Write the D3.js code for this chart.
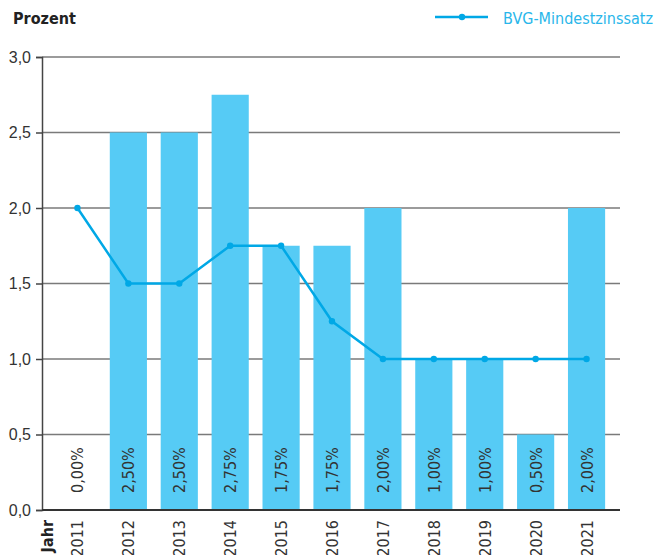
<!DOCTYPE html>
<html>
<head>
<meta charset="utf-8">
<script src="https://cdn.jsdelivr.net/npm/d3@7"></script>
<style>
  html, body { margin: 0; padding: 0; background: #fff; }
  svg { display: block; font-family: "Liberation Sans Narrow", "DejaVu Sans Condensed", "Liberation Sans", sans-serif; }
</style>
</head>
<body>
<svg id="chart" width="659" height="555"></svg>
<script>
// Years on the x axis
const years = ["2011","2012","2013","2014","2015","2016","2017","2018","2019","2020","2021"];
// Bar values (percent)
const barValues = [0.00, 2.50, 2.50, 2.75, 1.75, 1.75, 2.00, 1.00, 1.00, 0.50, 2.00];
// BVG-Mindestzinssatz (percent)
const minRate = [2.00, 1.50, 1.50, 1.75, 1.75, 1.25, 1.00, 1.00, 1.00, 1.00, 1.00];
// Y axis ticks
const yTicks = [0, 0.5, 1.0, 1.5, 2.0, 2.5, 3.0];

const barColor = "#56cbf5";
const lineColor = "#00a8e6";
const fmtTick = d => d3.format(".1f")(d).replace(".", ",");
const fmtPct = d => d3.format(".2f")(d).replace(".", ",") + "%";

const svg = d3.select("#chart");
const plotLeft = 42, plotRight = 620, plotTop = 57, plotBottom = 510;

const x = d3.scaleBand().domain(years).range([52, 612]).paddingInner(0.27).paddingOuter(0.135);
const y = d3.scaleLinear().domain([0, 3]).range([plotBottom, plotTop]);

// Grid lines
svg.append("g").selectAll("line").data(yTicks.filter(d => d > 0)).join("line")
  .attr("x1", plotLeft).attr("x2", plotRight)
  .attr("y1", d => y(d)).attr("y2", d => y(d))
  .attr("stroke", "#7a7a7a").attr("stroke-width", 1.5);

// Y axis
const yAxis = svg.append("g").attr("transform", `translate(${plotLeft},0)`)
  .call(d3.axisLeft(y).tickValues(yTicks).tickFormat(fmtTick).tickSize(6).tickPadding(5));
yAxis.select(".domain").attr("stroke", "#444").attr("stroke-width", 1.5);
yAxis.selectAll(".tick line").attr("stroke", "#444").attr("stroke-width", 1.5);
yAxis.selectAll(".tick text").attr("font-size", 16).attr("fill", "#333")
  .style("font-family", "inherit");

// Bars
svg.append("g").selectAll("rect").data(years).join("rect")
  .attr("x", d => x(d))
  .attr("width", x.bandwidth())
  .attr("y", (d, i) => y(barValues[i]))
  .attr("height", (d, i) => y(0) - y(barValues[i]))
  .attr("fill", barColor);

// Baseline
svg.append("line").attr("x1", plotLeft).attr("x2", plotRight)
  .attr("y1", y(0)).attr("y2", y(0))
  .attr("stroke", "#333").attr("stroke-width", 2);

// Bar value labels (rotated)
svg.append("g").selectAll("text").data(years).join("text")
  .attr("transform", d => `translate(${x(d) + x.bandwidth() / 2 + 6},${y(0) - 17}) rotate(-90)`)
  .attr("font-size", 16).attr("fill", "#333")
  .text((d, i) => fmtPct(barValues[i]));

// Line series
const cx = d => x(d) + x.bandwidth() / 2;
svg.append("path")
  .datum(years)
  .attr("fill", "none").attr("stroke", lineColor).attr("stroke-width", 2.5)
  .attr("d", d3.line().x(d => cx(d)).y((d, i) => y(minRate[i])));
svg.append("g").selectAll("circle").data(years).join("circle")
  .attr("cx", d => cx(d)).attr("cy", (d, i) => y(minRate[i])).attr("r", 3.2)
  .attr("fill", lineColor);

// X axis year labels (rotated)
svg.append("g").selectAll("text").data(years).join("text")
  .attr("transform", d => `translate(${cx(d) + 6},${y(0) + 10}) rotate(-90)`)
  .attr("text-anchor", "end")
  .attr("font-size", 16).attr("fill", "#333")
  .text(d => d);

svg.append("text")
  .attr("transform", `translate(${53},${y(0) + 10}) rotate(-90)`)
  .attr("text-anchor", "end")
  .attr("font-size", 16).attr("font-weight", "bold").attr("fill", "#222")
  .text("Jahr");

// Y axis title
svg.append("text").attr("x", 13).attr("y", 24)
  .attr("font-size", 16).attr("font-weight", "bold").attr("fill", "#222")
  .text("Prozent");

// Legend
svg.append("line").attr("x1", 435).attr("x2", 488).attr("y1", 17).attr("y2", 17)
  .attr("stroke", lineColor).attr("stroke-width", 2.5);
svg.append("circle").attr("cx", 462).attr("cy", 17).attr("r", 3.2).attr("fill", lineColor);
svg.append("text").attr("x", 503).attr("y", 24)
  .attr("font-size", 16).attr("fill", "#29b6ea")
  .text("BVG-Mindestzinssatz");
</script>
</body>
</html>
